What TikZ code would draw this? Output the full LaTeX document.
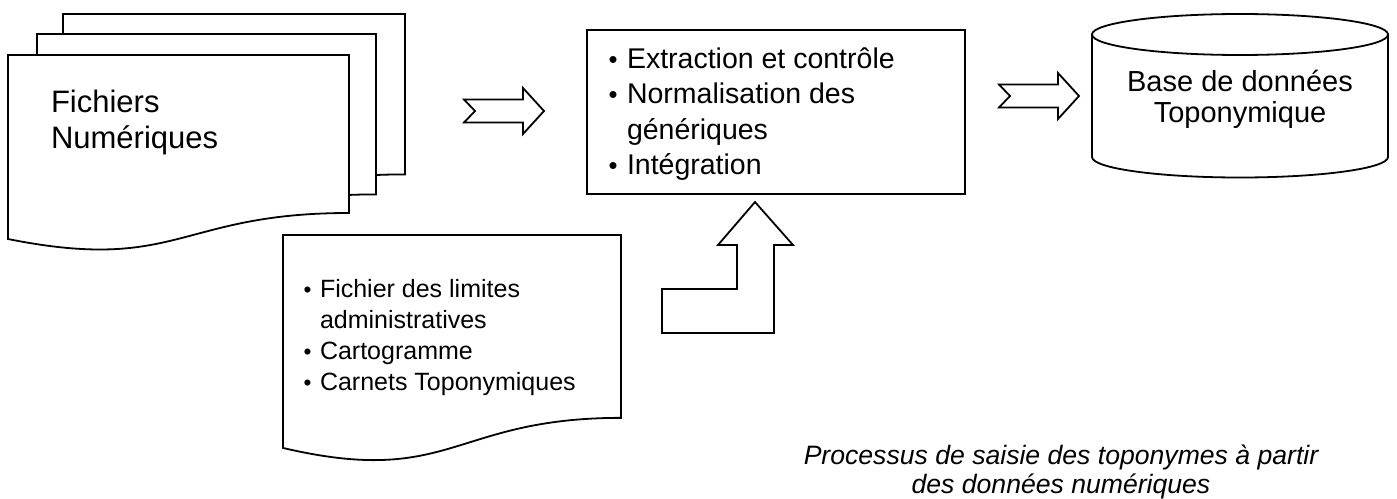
\documentclass[tikz,border=0pt]{standalone}
\usepackage{fontspec}
\usepackage{graphicx}
\setmainfont{Liberation Sans}
\newcommand\bulw[1]{\llap{\makebox[#1][l]{\scalebox{0.9}{\textbullet}}}}
\begin{document}
\begin{tikzpicture}[x=0.5pt,y=-0.5pt,
  shp/.style={draw=black,fill=white,line width=0.9pt,line join=miter},
  txt/.style={inner sep=0pt,outer sep=0pt,text=black}]
\useasboundingbox (0,0) rectangle (1397,498);
% multi-document (back to front)
\newcommand\docpath[4]{(#1,#2) -- ({#1+#3},#2) -- ({#1+#3},{#2+0.802*#4})
  .. controls ({#1+0.5*#3},{#2+0.802*#4}) and ({#1+0.5*#3},{#2+1.1075*#4}) .. (#1,{#2+0.934*#4}) -- cycle}
\path[shp] \docpath{63}{14}{342}{200};
\path[shp] \docpath{37}{34}{339}{200};
\path[shp] \docpath{8}{55}{341}{197};
\node[txt,anchor=base west,font={\fontsize{15.5}{18}\selectfont}] (fich) at (51,112)
  {\vtop{\hbox{Fichiers}\hbox{Numériques}}};
% arrow 1
\path[shp] (464,99.5) -- (523,99.5) -- (523,88) -- (544,111) -- (523,134) -- (523,122.5) -- (464,122.5) -- (475,111) -- cycle;
% process box
\node[shp,minimum width=189pt,minimum height=82pt,anchor=north west,inner sep=0pt] (proc) at (586,29) {};
\node[txt,anchor=base west,font={\fontsize{14.25}{17.8}\selectfont}] (proctxt) at (627,68)
  {\vtop{\hbox{\bulw{9.2pt}Extraction et contrôle}\hbox{\bulw{9.2pt}Normalisation des}\hbox{génériques}\hbox{\bulw{9.2pt}Intégration}}};
% arrow 2
\path[shp] (999,84.5) -- (1058,84.5) -- (1058,73) -- (1079,96) -- (1058,119) -- (1058,107.5) -- (999,107.5) -- (1010,96) -- cycle;
% database cylinder
\path[shp] (1092,34.5) -- (1092,157) .. controls (1092,168.3) and (1158.3,177.5) .. (1240,177.5)
  .. controls (1321.7,177.5) and (1388,168.3) .. (1388,157) -- (1388,34.5) -- cycle;
\path[shp] (1240,34.5) ellipse [x radius=148,y radius=20.5];
\node[txt,anchor=base,font={\fontsize{14.5}{15.5}\selectfont}] (db) at (1240,91)
  {\vtop{\halign{\hfil#\hfil\cr Base de données\cr Toponymique\cr}}};
% source document
\path[shp] \docpath{283}{235}{338}{228};
\node[txt,anchor=base west,font={\fontsize{12.5}{15.6}\selectfont}] (src) at (320,297)
  {\vtop{\hbox{\bulw{8.2pt}Fichier des limites}\hbox{administratives}\hbox{\bulw{8.2pt}Cartogramme}\hbox{\bulw{8.2pt}Carnets Toponymiques}}};
% bent up arrow
\path[shp] (755,202) -- (793,245) -- (774,245) -- (774,333) -- (662,333) -- (662,289) -- (737,289) -- (737,245) -- (718,245) -- cycle;
% caption
\node[txt,anchor=base,font={\fontsize{13.3}{14.5}\selectfont\itshape}] (cap) at (1061,464)
  {\vtop{\halign{\hfil#\hfil\cr Processus de saisie des toponymes à partir\cr des données numériques\cr}}};
\end{tikzpicture}
\end{document}
